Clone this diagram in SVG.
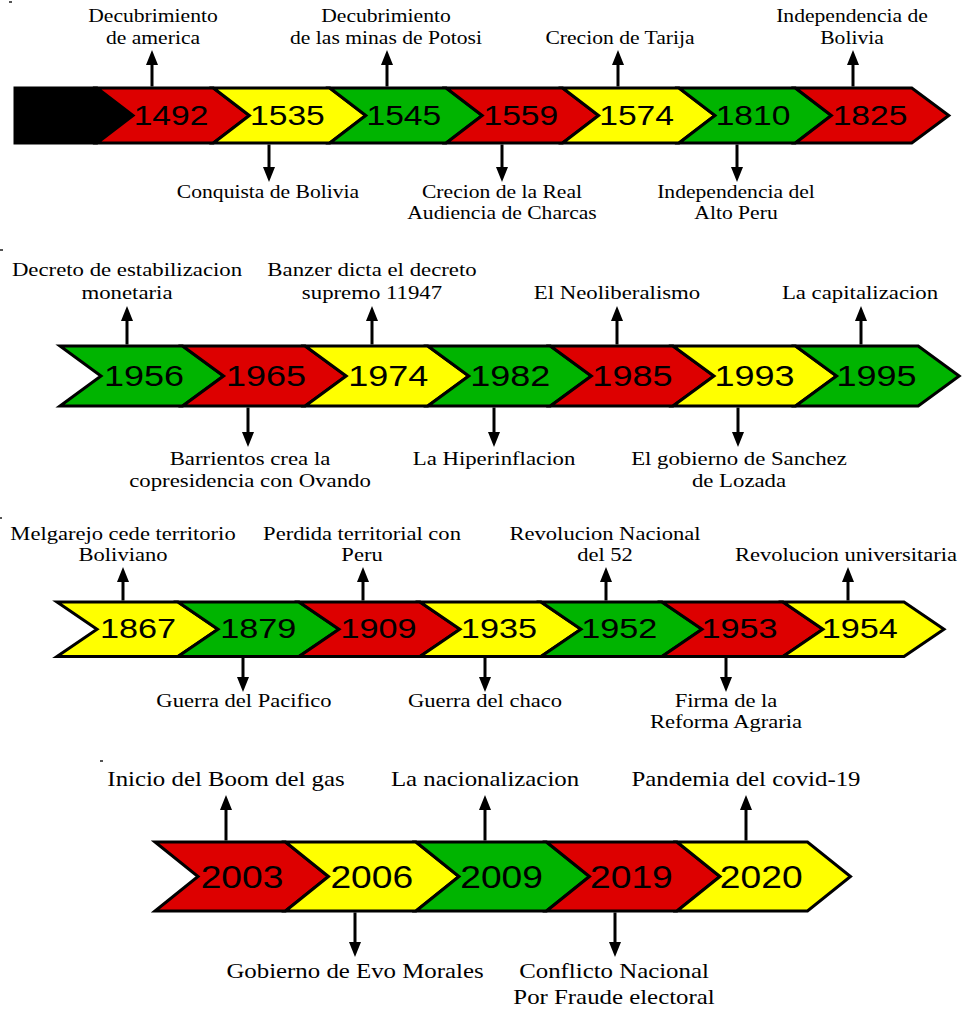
<svg xmlns="http://www.w3.org/2000/svg" width="965" height="1015" viewBox="0 0 965 1015">
<style>
.lbl{font-family:"Liberation Serif","Times New Roman",serif;fill:#000;text-anchor:middle}
.r1{font-size:18px}.r2{font-size:19px}.r3{font-size:18.8px}.r4{font-size:20.7px}
.yr{font-family:"Liberation Sans",Arial,sans-serif;fill:#000;text-anchor:middle}
.chev{stroke:#000;stroke-width:3;stroke-linejoin:miter}
.red{fill:#DD0000}.yel{fill:#FFFF00}.grn{fill:#00B400}.blk{fill:#000}
.conn line{stroke:#000;stroke-width:3}
.tick{fill:#555}
</style>
<defs>
<marker id="ah" viewBox="0 0 15 12" refX="0" refY="6" markerWidth="15" markerHeight="12" markerUnits="userSpaceOnUse" orient="auto">
<path d="M0,0 L15,6 L0,12 z" fill="#000"/>
</marker>
</defs>
<rect width="965" height="1015" fill="#fff"/>
<g id="ticks">
<rect class="tick" x="9" y="1" width="3" height="2"/>
<rect class="tick" x="0" y="249" width="3" height="2"/>
<rect class="tick" x="0" y="517" width="2" height="2"/>
<rect class="tick" x="100" y="760" width="3" height="2"/>
</g>

<!-- Row 1 -->
<g id="start-1">
<polygon class="chev blk" points="15,88 97,88 133,115.5 97,143 15,143"/>
</g>
<g id="n1492">
<polygon class="chev red" points="97,88 213.4,88 249.4,115.5 213.4,143 97,143 133,115.5"/>
<text class="yr" font-size="28" transform="translate(171,125) scale(1.2,1)">1492</text>
<text class="lbl r1" transform="translate(153,0) scale(1.2,1)"><tspan x="0" y="22.5">Decubrimiento</tspan><tspan x="0" y="44">de america</tspan></text>
</g>
<g id="n1535">
<polygon class="chev yel" points="213.4,88 329.8,88 365.8,115.5 329.8,143 213.4,143 249.4,115.5"/>
<text class="yr" font-size="28" transform="translate(287.4,125) scale(1.2,1)">1535</text>
<text class="lbl r1" transform="translate(268,198) scale(1.2,1)">Conquista de Bolivia</text>
</g>
<g id="n1545">
<polygon class="chev grn" points="329.8,88 446.2,88 482.2,115.5 446.2,143 329.8,143 365.8,115.5"/>
<text class="yr" font-size="28" transform="translate(403.8,125) scale(1.2,1)">1545</text>
<text class="lbl r1" transform="translate(386,0) scale(1.2,1)"><tspan x="0" y="22.5">Decubrimiento</tspan><tspan x="0" y="44">de las minas de Potosi</tspan></text>
</g>
<g id="n1559">
<polygon class="chev red" points="446.2,88 562.6,88 598.6,115.5 562.6,143 446.2,143 482.2,115.5"/>
<text class="yr" font-size="28" transform="translate(520.8,125) scale(1.2,1)">1559</text>
<text class="lbl r1" transform="translate(502,0) scale(1.2,1)"><tspan x="0" y="198">Crecion de la Real</tspan><tspan x="0" y="219">Audiencia de Charcas</tspan></text>
</g>
<g id="n1574">
<polygon class="chev yel" points="562.6,88 679,88 715,115.5 679,143 562.6,143 598.6,115.5"/>
<text class="yr" font-size="28" transform="translate(636.6,125) scale(1.2,1)">1574</text>
<text class="lbl r1" transform="translate(620,44) scale(1.2,1)">Crecion de Tarija</text>
</g>
<g id="n1810">
<polygon class="chev grn" points="679,88 795.4,88 831.4,115.5 795.4,143 679,143 715,115.5"/>
<text class="yr" font-size="28" transform="translate(753,125) scale(1.2,1)">1810</text>
<text class="lbl r1" transform="translate(736,0) scale(1.2,1)"><tspan x="0" y="198">Independencia del</tspan><tspan x="0" y="219">Alto Peru</tspan></text>
</g>
<g id="n1825">
<polygon class="chev red" points="795.4,88 911.8,88 948.8,115.5 911.8,143 795.4,143 831.4,115.5"/>
<text class="yr" font-size="28" transform="translate(870,125) scale(1.2,1)">1825</text>
<text class="lbl r1" transform="translate(852,0) scale(1.2,1)"><tspan x="0" y="22.5">Independencia de</tspan><tspan x="0" y="44">Bolivia</tspan></text>
</g>

<!-- Row 2 -->
<g id="n1956">
<polygon class="chev grn" points="60,346 182.6,346 223.6,376 182.6,406 60,406 101,376"/>
<text class="yr" font-size="30" transform="translate(144,386) scale(1.2,1)">1956</text>
<text class="lbl r2" transform="translate(127,0) scale(1.2,1)"><tspan x="0" y="276.5">Decreto de estabilizacion</tspan><tspan x="0" y="299">monetaria</tspan></text>
</g>
<g id="n1965">
<polygon class="chev red" points="182.6,346 305.2,346 346.2,376 305.2,406 182.6,406 223.6,376"/>
<text class="yr" font-size="30" transform="translate(266.1,386) scale(1.2,1)">1965</text>
<text class="lbl r2" transform="translate(250,0) scale(1.2,1)"><tspan x="0" y="465">Barrientos crea la</tspan><tspan x="0" y="487.5">copresidencia con Ovando</tspan></text>
</g>
<g id="n1974">
<polygon class="chev yel" points="305.2,346 427.8,346 468.8,376 427.8,406 305.2,406 346.2,376"/>
<text class="yr" font-size="30" transform="translate(388.2,386) scale(1.2,1)">1974</text>
<text class="lbl r2" transform="translate(372,0) scale(1.2,1)"><tspan x="0" y="276.5">Banzer dicta el decreto</tspan><tspan x="0" y="299">supremo 11947</tspan></text>
</g>
<g id="n1982">
<polygon class="chev grn" points="427.8,346 550.4,346 591.4,376 550.4,406 427.8,406 468.8,376"/>
<text class="yr" font-size="30" transform="translate(510.3,386) scale(1.2,1)">1982</text>
<text class="lbl r2" transform="translate(494,465) scale(1.2,1)">La Hiperinflacion</text>
</g>
<g id="n1985">
<polygon class="chev red" points="550.4,346 673,346 714,376 673,406 550.4,406 591.4,376"/>
<text class="yr" font-size="30" transform="translate(632.4,386) scale(1.2,1)">1985</text>
<text class="lbl r2" transform="translate(617,299) scale(1.2,1)">El Neoliberalismo</text>
</g>
<g id="n1993">
<polygon class="chev yel" points="673,346 795.6,346 836.6,376 795.6,406 673,406 714,376"/>
<text class="yr" font-size="30" transform="translate(754.5,386) scale(1.2,1)">1993</text>
<text class="lbl r2" transform="translate(739,0) scale(1.2,1)"><tspan x="0" y="465">El gobierno de Sanchez</tspan><tspan x="0" y="487.5">de Lozada</tspan></text>
</g>
<g id="n1995">
<polygon class="chev grn" points="795.6,346 918.2,346 959.2,376 918.2,406 795.6,406 836.6,376"/>
<text class="yr" font-size="30" transform="translate(876.6,386) scale(1.2,1)">1995</text>
<text class="lbl r2" transform="translate(860,299) scale(1.2,1)">La capitalizacion</text>
</g>

<!-- Row 3 -->
<g id="n1867">
<polygon class="chev yel" points="57,602 178,602 218,629.25 178,656.5 57,656.5 97,629.25"/>
<text class="yr" font-size="28.5" transform="translate(138,638) scale(1.2,1)">1867</text>
<text class="lbl r3" transform="translate(123,0) scale(1.2,1)"><tspan x="0" y="540">Melgarejo cede territorio</tspan><tspan x="0" y="561">Boliviano</tspan></text>
</g>
<g id="n1879">
<polygon class="chev grn" points="178,602 299,602 339,629.25 299,656.5 178,656.5 218,629.25"/>
<text class="yr" font-size="28.5" transform="translate(258.3,638) scale(1.2,1)">1879</text>
<text class="lbl r3" transform="translate(244,707) scale(1.2,1)">Guerra del Pacifico</text>
</g>
<g id="n1909">
<polygon class="chev red" points="299,602 420,602 460,629.25 420,656.5 299,656.5 339,629.25"/>
<text class="yr" font-size="28.5" transform="translate(378.6,638) scale(1.2,1)">1909</text>
<text class="lbl r3" transform="translate(362,0) scale(1.2,1)"><tspan x="0" y="540">Perdida territorial con</tspan><tspan x="0" y="561">Peru</tspan></text>
</g>
<g id="n1935">
<polygon class="chev yel" points="420,602 541,602 581,629.25 541,656.5 420,656.5 460,629.25"/>
<text class="yr" font-size="28.5" transform="translate(498.9,638) scale(1.2,1)">1935</text>
<text class="lbl r3" transform="translate(485,707) scale(1.2,1)">Guerra del chaco</text>
</g>
<g id="n1952">
<polygon class="chev grn" points="541,602 662,602 702,629.25 662,656.5 541,656.5 581,629.25"/>
<text class="yr" font-size="28.5" transform="translate(619.2,638) scale(1.2,1)">1952</text>
<text class="lbl r3" transform="translate(605,0) scale(1.2,1)"><tspan x="0" y="540">Revolucion Nacional</tspan><tspan x="0" y="561">del 52</tspan></text>
</g>
<g id="n1953">
<polygon class="chev red" points="662,602 783,602 823,629.25 783,656.5 662,656.5 702,629.25"/>
<text class="yr" font-size="28.5" transform="translate(739.5,638) scale(1.2,1)">1953</text>
<text class="lbl r3" transform="translate(726,0) scale(1.2,1)"><tspan x="0" y="707">Firma de la</tspan><tspan x="0" y="728">Reforma Agraria</tspan></text>
</g>
<g id="n1954">
<polygon class="chev yel" points="783,602 904,602 944,629.25 904,656.5 783,656.5 823,629.25"/>
<text class="yr" font-size="28.5" transform="translate(859.8,638) scale(1.2,1)">1954</text>
<text class="lbl r3" transform="translate(846,561) scale(1.2,1)">Revolucion universitaria</text>
</g>

<!-- Row 4 -->
<g id="n2003">
<polygon class="chev red" points="155,842 285.5,842 328.5,876.5 285.5,911 155,911 198,876.5"/>
<text class="yr" font-size="31" transform="translate(242,887.5) scale(1.2,1)">2003</text>
<text class="lbl r4" transform="translate(226,786) scale(1.2,1)">Inicio del Boom del gas</text>
</g>
<g id="n2006">
<polygon class="chev yel" points="285.5,842 416,842 459,876.5 416,911 285.5,911 328.5,876.5"/>
<text class="yr" font-size="31" transform="translate(371.8,887.5) scale(1.2,1)">2006</text>
<text class="lbl r4" transform="translate(355,978) scale(1.2,1)">Gobierno de Evo Morales</text>
</g>
<g id="n2009">
<polygon class="chev grn" points="416,842 546.5,842 589.5,876.5 546.5,911 416,911 459,876.5"/>
<text class="yr" font-size="31" transform="translate(501.6,887.5) scale(1.2,1)">2009</text>
<text class="lbl r4" transform="translate(485,786) scale(1.2,1)">La nacionalizacion</text>
</g>
<g id="n2019">
<polygon class="chev red" points="546.5,842 677,842 720,876.5 677,911 546.5,911 589.5,876.5"/>
<text class="yr" font-size="31" transform="translate(631.4,887.5) scale(1.2,1)">2019</text>
<text class="lbl r4" transform="translate(614,0) scale(1.2,1)"><tspan x="0" y="978">Conflicto Nacional</tspan><tspan x="0" y="1004">Por Fraude electoral</tspan></text>
</g>
<g id="n2020">
<polygon class="chev yel" points="677,842 807.5,842 850.5,876.5 807.5,911 677,911 720,876.5"/>
<text class="yr" font-size="31" transform="translate(761.2,887.5) scale(1.2,1)">2020</text>
<text class="lbl r4" transform="translate(746,786) scale(1.2,1)">Pandemia del covid-19</text>
</g>

<g id="connectors" class="conn">
<line x1="152" y1="86.5" x2="152" y2="65" marker-end="url(#ah)"/>
<line x1="387" y1="86.5" x2="387" y2="65" marker-end="url(#ah)"/>
<line x1="618" y1="86.5" x2="618" y2="65" marker-end="url(#ah)"/>
<line x1="853" y1="86.5" x2="853" y2="65" marker-end="url(#ah)"/>
<line x1="269" y1="144.5" x2="269" y2="167" marker-end="url(#ah)"/>
<line x1="502" y1="144.5" x2="502" y2="167" marker-end="url(#ah)"/>
<line x1="737" y1="144.5" x2="737" y2="167" marker-end="url(#ah)"/>

<line x1="127" y1="344.5" x2="127" y2="321" marker-end="url(#ah)"/>
<line x1="372" y1="344.5" x2="372" y2="321" marker-end="url(#ah)"/>
<line x1="617" y1="344.5" x2="617" y2="321" marker-end="url(#ah)"/>
<line x1="861" y1="344.5" x2="861" y2="321" marker-end="url(#ah)"/>
<line x1="248" y1="407.5" x2="248" y2="432" marker-end="url(#ah)"/>
<line x1="494" y1="407.5" x2="494" y2="432" marker-end="url(#ah)"/>
<line x1="738" y1="407.5" x2="738" y2="432" marker-end="url(#ah)"/>

<line x1="123" y1="600.5" x2="123" y2="582" marker-end="url(#ah)"/>
<line x1="363" y1="600.5" x2="363" y2="582" marker-end="url(#ah)"/>
<line x1="606" y1="600.5" x2="606" y2="582" marker-end="url(#ah)"/>
<line x1="848" y1="600.5" x2="848" y2="582" marker-end="url(#ah)"/>
<line x1="243" y1="658" x2="243" y2="677" marker-end="url(#ah)"/>
<line x1="485" y1="658" x2="485" y2="677" marker-end="url(#ah)"/>
<line x1="726" y1="658" x2="726" y2="677" marker-end="url(#ah)"/>

<line x1="226" y1="840.5" x2="226" y2="810" marker-end="url(#ah)"/>
<line x1="485" y1="840.5" x2="485" y2="810" marker-end="url(#ah)"/>
<line x1="746" y1="840.5" x2="746" y2="810" marker-end="url(#ah)"/>
<line x1="355" y1="912.5" x2="355" y2="942" marker-end="url(#ah)"/>
<line x1="615" y1="912.5" x2="615" y2="942" marker-end="url(#ah)"/>
</g>
</svg>
